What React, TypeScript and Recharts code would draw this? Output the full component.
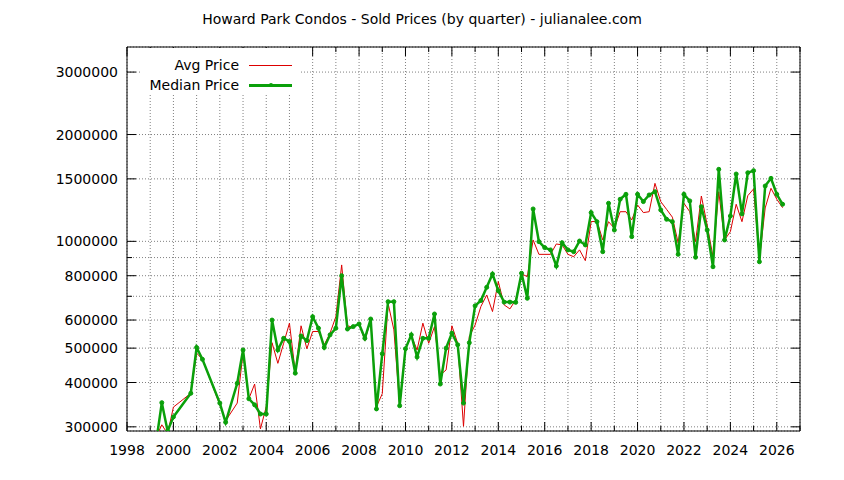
import React from "react";
import { LineChart, Line, XAxis, YAxis, CartesianGrid, ReferenceLine } from "recharts";

const W = 844;
const H = 480;
const PLOT = { left: 127, right: 800, top: 47, bottom: 431 };
const FONT = "'DejaVu Sans', sans-serif";
const FS = 14;
const RED = "#dd0000";
const GREEN = "#0aa00a";

// quarter positions (year fractions) that have sales
const quarters = [
  1999.25, 1999.5, 1999.75, 2000.0, 2000.75, 2001.0, 2001.25, 2002.0, 2002.25, 2002.75,
  2003.0, 2003.25, 2003.5, 2003.75, 2004.0, 2004.25, 2004.5, 2004.75, 2005.0, 2005.25,
  2005.5, 2005.75, 2006.0, 2006.25, 2006.5, 2006.75, 2007.0, 2007.25, 2007.5, 2007.75,
  2008.0, 2008.25, 2008.5, 2008.75, 2009.0, 2009.25, 2009.5, 2009.75, 2010.0, 2010.25,
  2010.5, 2010.75, 2011.0, 2011.25, 2011.5, 2011.75, 2012.0, 2012.25, 2012.5, 2012.75,
  2013.0, 2013.25, 2013.5, 2013.75, 2014.0, 2014.25, 2014.5, 2014.75, 2015.0, 2015.25,
  2015.5, 2015.75, 2016.0, 2016.25, 2016.5, 2016.75, 2017.0, 2017.25, 2017.5, 2017.75,
  2018.0, 2018.25, 2018.5, 2018.75, 2019.0, 2019.25, 2019.5, 2019.75, 2020.0, 2020.25,
  2020.5, 2020.75, 2021.0, 2021.25, 2021.5, 2021.75, 2022.0, 2022.25, 2022.5, 2022.75,
  2023.0, 2023.25, 2023.5, 2023.75, 2024.0, 2024.25, 2024.5, 2024.75, 2025.0, 2025.25,
  2025.5, 2025.75, 2026.0, 2026.25,
];

const avgPrice = [
  280000, 304000, 287000, 341000, 373000, 484000, 465000, 346000, 312000, 350000,
  484000, 360000, 396000, 296000, 342000, 518000, 453000, 516000, 588000, 428000,
  578000, 498000, 557000, 557000, 511000, 551000, 613000, 858000, 578000, 572000,
  585000, 525000, 600000, 342000, 372000, 669000, 563000, 344000, 498000, 543000,
  494000, 588000, 516000, 575000, 420000, 434000, 578000, 516000, 301000, 539000,
  581000, 655000, 706000, 634000, 770000, 662000, 645000, 684000, 810000, 795000,
  1009000, 919000, 919000, 919000, 983000, 977000, 919000, 905000, 946000, 882000,
  1136000, 1140000, 1009000, 1136000, 1088000, 1212000, 1212000, 1149000, 1266000, 1205000,
  1212000, 1457000, 1294000, 1231000, 1170000, 990000, 1280000, 1212000, 998000, 1342000,
  1112000, 905000, 1380000, 1009000, 1065000, 1272000, 1136000, 1345000, 1405000, 890000,
  1242000, 1411000, 1314000, 1244000,
];

const medianPrice = [
  270000, 351000, 292000, 320000, 373000, 502000, 465000, 350000, 309000, 398000,
  494000, 360000, 346000, 326000, 326000, 600000, 494000, 533000, 522000, 425000,
  541000, 525000, 613000, 569000, 502000, 545000, 569000, 800000, 566000, 575000,
  585000, 533000, 604000, 337000, 482000, 676000, 676000, 344000, 498000, 545000,
  472000, 533000, 533000, 624000, 396000, 500000, 551000, 511000, 350000, 518000,
  658000, 681000, 742000, 809000, 726000, 674000, 674000, 673000, 813000, 691000,
  1234000, 998000, 960000, 946000, 852000, 991000, 946000, 935000, 1002000, 977000,
  1205000, 1136000, 935000, 1280000, 1076000, 1314000, 1357000, 1031000, 1357000, 1294000,
  1351000, 1380000, 1226000, 1154000, 1136000, 919000, 1357000, 1300000, 902000, 1252000,
  1076000, 848000, 1596000, 1009000, 1179000, 1548000, 1195000, 1561000, 1582000, 876000,
  1432000, 1505000, 1357000, 1272000,
];

const yearTicks = [
  1998, 1999, 2000, 2001, 2002, 2003, 2004, 2005, 2006, 2007, 2008, 2009, 2010, 2011, 2012,
  2013, 2014, 2015, 2016, 2017, 2018, 2019, 2020, 2021, 2022, 2023, 2024, 2025, 2026, 2027,
];
const priceTicks = [300000, 400000, 500000, 600000, 700000, 800000, 900000, 1000000, 1500000, 2000000, 3000000];
const minorPriceTicks = [700000, 900000];

const X_DOMAIN = [1998, 2027];
const Y_DOMAIN = [292000, 3530000];

const chartData = quarters.map((q, i) => ({ q, avg: avgPrice[i], median: medianPrice[i] }));

const XTick = (props: any) => {
  const { x, payload } = props;
  const v = payload.value;
  const major = v % 2 === 0;
  const len = major ? 9 : 5;
  return (
    <g>
      <line x1={x} x2={x} y1={PLOT.bottom} y2={PLOT.bottom - len} stroke="#000" />
      <line x1={x} x2={x} y1={PLOT.top} y2={PLOT.top + len} stroke="#000" />
      {major && v < 2027 && (
        <text x={x} y={PLOT.bottom + 24} textAnchor="middle" fontFamily={FONT} fontSize={FS} fill="#000">
          {v}
        </text>
      )}
    </g>
  );
};

const YTick = (props: any) => {
  const { y, payload } = props;
  const v = payload.value;
  const minor = minorPriceTicks.includes(v);
  const len = minor ? 5 : 9;
  return (
    <g>
      <line x1={PLOT.left} x2={PLOT.left + len} y1={y} y2={y} stroke="#000" />
      <line x1={PLOT.right} x2={PLOT.right - len} y1={y} y2={y} stroke="#000" />
      {!minor && (
        <text x={PLOT.left - 9} y={y + 5} textAnchor="end" fontFamily={FONT} fontSize={FS} fill="#000">
          {v}
        </text>
      )}
    </g>
  );
};

const LegendBox = () => (
  <div
    style={{
      position: "absolute",
      left: 140,
      top: 48,
      width: 160,
      height: 47,
      background: "#fff",
      fontFamily: FONT,
      fontSize: FS,
    }}
  >
    <div style={{ position: "absolute", right: 61, top: 8, lineHeight: "18px", whiteSpace: "nowrap" }}>Avg Price</div>
    <div style={{ position: "absolute", left: 109, top: 17, width: 43, height: 1, background: RED }} />
    <div style={{ position: "absolute", right: 61, top: 28, lineHeight: "18px", whiteSpace: "nowrap" }}>Median Price</div>
    <div style={{ position: "absolute", left: 109, top: 36, width: 43, height: 2.5, background: GREEN }} />
    <div
      style={{ position: "absolute", left: 128.5, top: 35.25, width: 4, height: 4, borderRadius: 2, background: GREEN }}
    />
  </div>
);

export default function App() {
  return (
    <div style={{ position: "relative", width: W, height: H, background: "#fff" }}>
      <style>{"body{margin:0}"}</style>
      <LineChart
        width={W}
        height={H}
        data={chartData}
        margin={{ top: PLOT.top, right: W - PLOT.right, bottom: 0, left: 0 }}
      >
        <CartesianGrid stroke="#808080" strokeDasharray="1 2" />
        <XAxis
          dataKey="q"
          type="number"
          domain={X_DOMAIN}
          ticks={yearTicks}
          interval={0}
          allowDataOverflow
          height={H - PLOT.bottom}
          axisLine={false}
          tickLine={false}
          tick={<XTick />}
        />
        <YAxis
          type="number"
          scale="log"
          domain={Y_DOMAIN}
          ticks={priceTicks}
          interval={0}
          allowDataOverflow
          width={PLOT.left}
          axisLine={false}
          tickLine={false}
          tick={<YTick />}
        />
        <ReferenceLine x={X_DOMAIN[0]} stroke="#000" />
        <ReferenceLine x={X_DOMAIN[1]} stroke="#000" />
        <ReferenceLine y={Y_DOMAIN[0]} stroke="#000" />
        <ReferenceLine y={Y_DOMAIN[1]} stroke="#000" />
        <Line
          type="linear"
          dataKey="avg"
          stroke={RED}
          strokeWidth={1}
          dot={false}
          isAnimationActive={false}
        />
        <Line
          type="linear"
          dataKey="median"
          stroke={GREEN}
          strokeWidth={2.5}
          dot={{ r: 2, fill: GREEN, stroke: GREEN, strokeWidth: 1 }}
          isAnimationActive={false}
        />
      </LineChart>
      <div
        style={{
          position: "absolute",
          top: 10,
          left: 0,
          width: W,
          textAlign: "center",
          fontFamily: FONT,
          fontSize: FS,
          lineHeight: "18px",
        }}
      >
        Howard Park Condos - Sold Prices (by quarter) - julianalee.com
      </div>
      <LegendBox />
    </div>
  );
}
